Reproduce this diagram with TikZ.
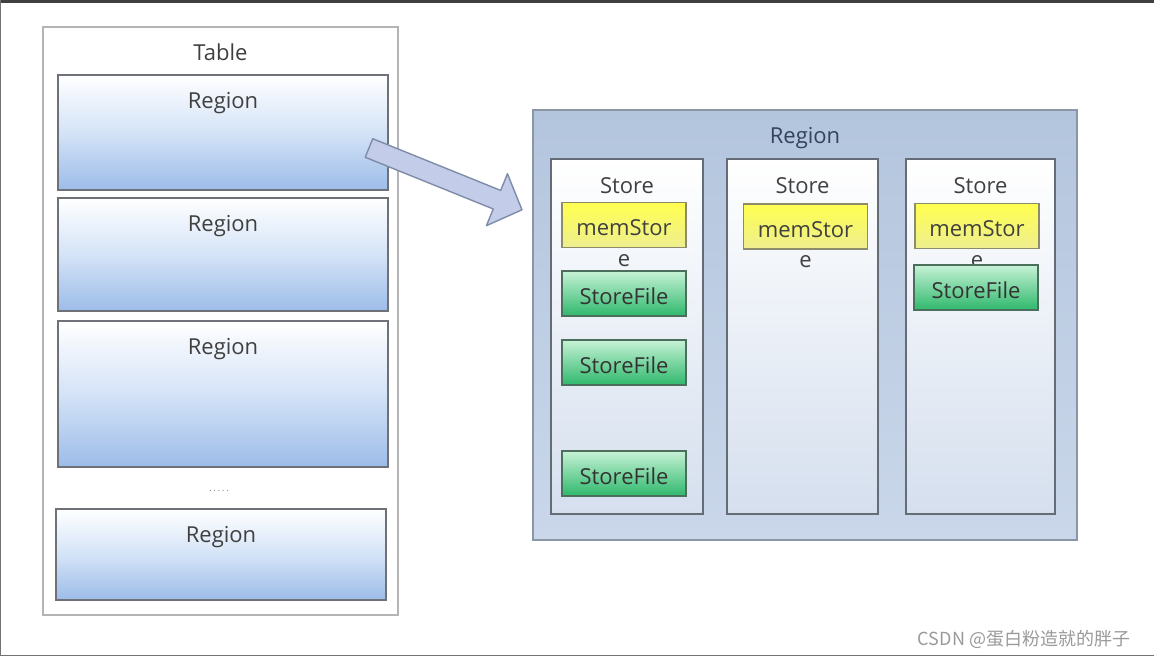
\documentclass[tikz,border=0pt]{standalone}
\usepackage{fontspec}
\setmainfont{Open Sans}
\newfontfamily\cjkfont{Noto Sans CJK SC}
\usetikzlibrary{positioning}

\definecolor{txtgray}{HTML}{404040}
\definecolor{tableedge}{HTML}{B4B4B4}
\definecolor{regedge}{HTML}{6E7278}
\definecolor{regblue}{HTML}{9CBCE8}
\definecolor{regmid}{HTML}{D4E3F7}
\definecolor{bigfill}{HTML}{B3C5DD}
\definecolor{bigfilllow}{HTML}{CAD7EA}
\definecolor{bigedge}{HTML}{8A96A6}
\definecolor{bigtext}{HTML}{34425E}
\definecolor{storeedge}{HTML}{646C78}
\definecolor{storelow}{HTML}{D5DFEE}
\definecolor{memtop}{HTML}{FFFF50}
\definecolor{memlow}{HTML}{EEEE90}
\definecolor{memedge}{HTML}{8C8C6A}
\definecolor{filetop}{HTML}{C6F2D6}
\definecolor{filelow}{HTML}{2FB86C}
\definecolor{fileedge}{HTML}{4C6E5C}
\definecolor{arrfill}{HTML}{C3CCE8}
\definecolor{arredge}{HTML}{7E8CA8}
\definecolor{marktext}{HTML}{9A9A9A}

\tikzset{
  lbl/.style={inner sep=0pt, text=txtgray, font=\fontsize{22}{26}\selectfont},
  tablebox/.style={draw=tableedge, line width=1.6pt, fill=white},
  regionbox/.style={draw=regedge, line width=1.6pt, top color=white, bottom color=regblue, middle color=regmid},
  bigbox/.style={draw=bigedge, line width=1.6pt, top color=bigfill, bottom color=bigfilllow},
  storebox/.style={draw=storeedge, line width=1.6pt, top color=white, bottom color=storelow},
  memstore/.style={draw=memedge, line width=1.4pt, top color=memtop, bottom color=memlow,
    minimum width=124pt, minimum height=45pt, inner sep=0pt, text height=21.6pt, text depth=0pt,
    text=txtgray, font=\fontsize{22}{26}\selectfont},
  storefile/.style={draw=fileedge, line width=1.4pt, top color=filetop, bottom color=filelow,
    minimum width=124pt, minimum height=45pt, inner sep=0pt, text height=21.6pt, text depth=0pt,
    text=black!80, font=\fontsize{22}{26}\selectfont}
}

\begin{document}
\begin{tikzpicture}[x=1pt, y=-1pt]
  % frame
  \useasboundingbox (0,0) rectangle (1154,658);
  \fill[white] (0,0) rectangle (1154,658);
  \fill[black!75] (0,0) rectangle (1154,3);
  \draw[black!55, line width=1.2pt] (0.6,0) -- (0.6,655.5) -- (1154,655.5);

  % table with regions
  \node[tablebox, minimum width=355pt, minimum height=588pt] (table) at (220.5,321) {};
  \node[lbl] (tablelbl) at ([yshift=-26pt]table.north) {Table};

  \node[regionbox, minimum width=330pt, minimum height=115pt] (reg1) at (223,132.5) {};
  \node[regionbox, minimum width=330pt, minimum height=113pt] (reg2) at (223,254.5) {};
  \node[regionbox, minimum width=330pt, minimum height=146pt] (reg3) at (223,394) {};
  \node[regionbox, minimum width=330pt, minimum height=91pt] (reg4) at (221,554.5) {};
  \foreach \r in {1,...,4}
    \node[lbl] (reg\r lbl) at ([yshift=-29pt]reg\r.north) {Region};
  \node[lbl, font=\fontsize{10}{12}\selectfont, text=black!45] (regdots) at (219,491) {.\,.\,.\,.\,.};

  % arrow
  \coordinate (arrtail) at (369,148);
  \begin{scope}[shift={(arrtail)}, rotate=-22]
    \draw[arredge, fill=arrfill, line width=1.4pt, line join=round]
      (0,-10) -- (138,-10) -- (138,-28) -- (165,0) -- (138,28) -- (138,10) -- (0,10) -- cycle;
  \end{scope}

  % region with stores
  \node[bigbox, minimum width=544pt, minimum height=430pt] (bigreg) at (805,325) {};
  \node[lbl, text=bigtext] (bigreglbl) at ([yshift=-29pt]bigreg.north) {Region};

  \node[storebox, minimum width=152pt, minimum height=355pt] (store1) at (627,336.5) {};
  \node[storebox, minimum width=151pt, minimum height=355pt] (store2) at (802.5,336.5) {};
  \node[storebox, minimum width=149pt, minimum height=355pt] (store3) at (980.5,336.5) {};
  \foreach \s in {1,2,3}
    \node[lbl] (store\s lbl) at ([yshift=-27pt]store\s.north) {Store};

  \node[memstore] (mem1) at (624,225) {memStor};
  \node[memstore] (mem2) at (805.5,226.5) {memStor};
  \node[memstore] (mem3) at (977,226) {memStor};
  \foreach \m in {1,2,3}
    \node[lbl] (mem\m e) at ([yshift=-12pt]mem\m.south) {e};

  \node[storefile] (file1) at (624,293.5) {StoreFile};
  \node[storefile] (file2) at (624,362.5) {StoreFile};
  \node[storefile] (file3) at (624,473.5) {StoreFile};
  \node[storefile] (file4) at (976,287.5) {StoreFile};

  % watermark
  \node[inner sep=0pt, text=marktext, font=\cjkfont\fontsize{18}{20}\selectfont] (mark) at (1024,639) {CSDN @蛋白粉造就的胖子};
\end{tikzpicture}
\end{document}
